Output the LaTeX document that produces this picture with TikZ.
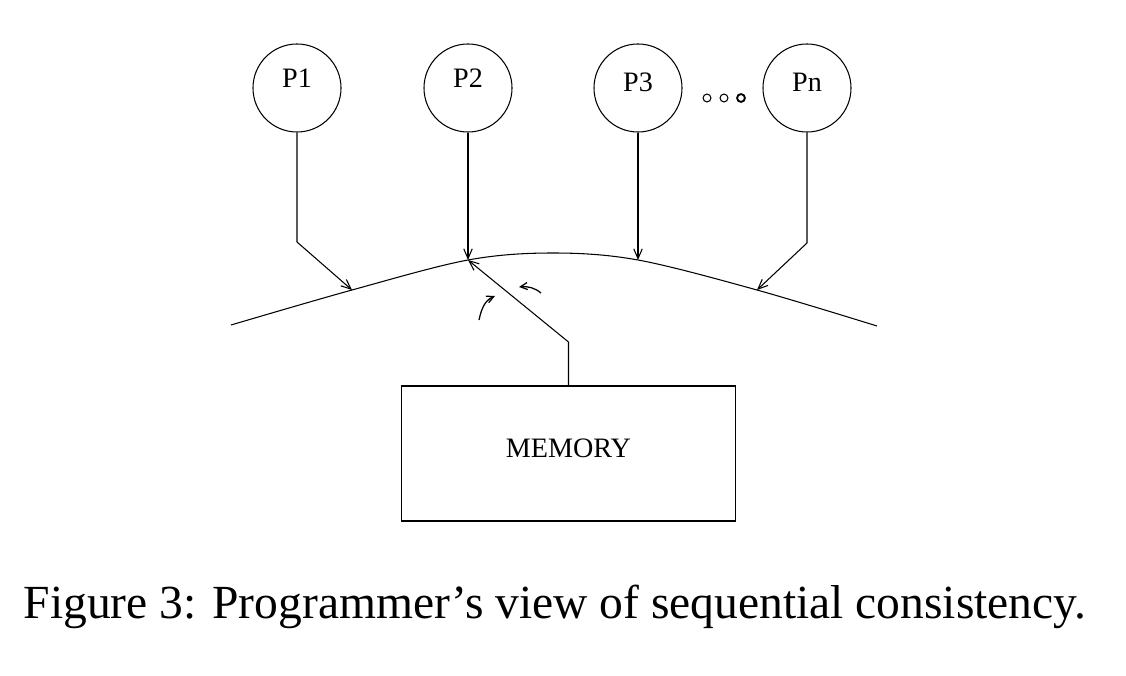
\documentclass[tikz,border=0pt]{standalone}
\usepackage{fontspec}
\setmainfont{Liberation Serif}
\usetikzlibrary{arrows.meta}

\begin{document}
\begin{tikzpicture}[x=0.025cm, y=-0.025cm,
    line width=0.75pt,
    proc/.style={circle, draw, minimum size=2.2cm, inner sep=0pt},
    plabel/.style={font=\fontsize{20}{24}\selectfont},
    membox/.style={rectangle, draw, minimum width=8.325cm, minimum height=3.375cm, text depth=7pt, font=\fontsize{20}{24}\selectfont},
    arr/.style={-{Straight Barb[length=7pt, width=6pt]}},
    hint/.style={-{Straight Barb[length=5pt, width=5pt]}, line width=0.9pt}
]

% Frame
\useasboundingbox (0,0) rectangle (1126,676);

% 1. PROCESSORS
\node[proc, label={[plabel, yshift=7pt]center:P1}] (p1) at (297,88) {};
\node[proc, label={[plabel, yshift=7pt]center:P2}] (p2) at (468,88) {};
\node[proc, label={[plabel, yshift=4pt]center:P3}] (p3) at (638,88) {};
\node[proc, label={[plabel, yshift=4pt]center:Pn}] (pn) at (807,88) {};

% dots between P3 and Pn
\draw (707,98) circle (2.8pt);
\draw (724,98) circle (2.8pt);
\draw[line width=1.3pt] (741,98) circle (2.8pt);

% 2. SWITCH CURVE
\coordinate (lend) at (231,325);
\coordinate (j1) at (352,290);
\coordinate (j2) at (468,260);
\coordinate (top) at (553,253);
\coordinate (j3) at (638,260);
\coordinate (j4) at (757,290);
\coordinate (rend) at (877,326);
\draw plot[smooth, tension=0.55] coordinates {(lend) (j1) (j2) (top) (j3) (j4) (rend)};

% bends of the processor wires
\coordinate (b1) at (297,242);
\coordinate (bn) at (807,243);

\draw[arr] (p1.south) -- (b1) -- (j1);
\draw[arr] (p2.south) -- (j2);
\draw[arr] (p3.south) -- (j3);
\draw[arr] (pn.south) -- (bn) -- (j4);

% 3. MEMORY
\node[membox] (mem) at (568.5,453.5) {MEMORY};
\coordinate (mbend) at (568.5,342);
\draw[arr] (mem.north) -- (mbend) -- (j2);

% rotation hints
\draw[hint] (479,320) .. controls (482,306) and (486,300) .. (495,296);
\draw[hint] (541,293) .. controls (535,288) and (528,286) .. (519,287);

% 4. CAPTION
\node[font=\fontsize{33.8}{40}\selectfont] (caption) at (555,607) {Figure 3: Programmer’s view of sequential consistency.};

\end{tikzpicture}
\end{document}
